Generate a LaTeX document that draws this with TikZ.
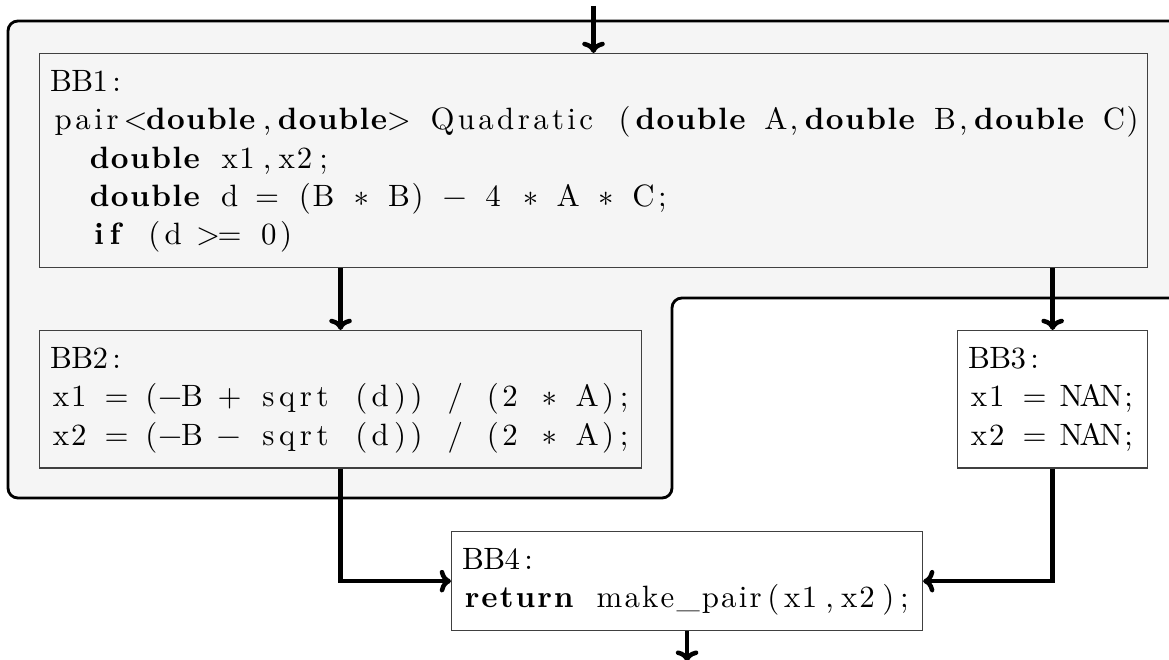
\documentclass[tikz,border=0pt]{standalone}
\usepackage{listings}
\usetikzlibrary{positioning, arrows.meta}
\definecolor{regiongray}{HTML}{F5F5F5}
\lstset{language=C++, basicstyle=\fontsize{10.95}{13.6}\selectfont, keywordstyle=\bfseries,
  columns=fixed, basewidth=0.61em, aboveskip=0pt, belowskip=0pt, showstringspaces=false}

\begin{document}
\begin{tikzpicture}[
        x=0.355pt, y=-0.355pt,
        node distance=0.8cm and 0.5cm,
        block/.style={rectangle, draw=black!75, fill=white, inner sep=4pt, anchor=north west, align=left},
        innerblock/.style={block, fill=regiongray},
        arrow/.style={-{Computer Modern Rightarrow[length=4pt, width=8pt]}, line width=1.6pt},
        region/.style={draw=black, line width=1pt, fill=regiongray, rounded corners=3.5pt}
    ]
        \useasboundingbox (0,0) rectangle (1169,660);
        \clip (0,0) rectangle (1169,660);

        % Region
        \draw[region] (8,21) -- (1220,21) -- (1220,298) -- (672,298) -- (672,498) -- (8,498) -- cycle;

        % Nodes
        \node[innerblock, text width=385.3pt] (bb1) at (39,53) {\par\prevdepth=-1000pt\relax
\begin{lstlisting}
BB1:
pair<double,double> Quadratic (double A,double B,double C)
  double x1,x2;
  double d = (B * B) - 4 * A * C;
  if (d >= 0)
\end{lstlisting}
};
        \node[innerblock, text width=205.7pt] (bb2) at (39,330) {\par\prevdepth=-1000pt\relax
\begin{lstlisting}
BB2:
x1 = (-B + sqrt (d)) / (2 * A);
x2 = (-B - sqrt (d)) / (2 * A);
\end{lstlisting}
};
        \node[block, text width=59.5pt] (bb3) at (957,330) {\par\prevdepth=-1000pt\relax
\begin{lstlisting}
BB3:
x1 = NAN;
x2 = NAN;
\end{lstlisting}
};
        \node[block, text width=159.2pt] (bb4) at (451,531) {\par\prevdepth=-1000pt\relax
\begin{lstlisting}
BB4:
return make_pair(x1,x2);
\end{lstlisting}
};

        \coordinate[above=16.7pt of bb1] (entry);
        \coordinate[below=10.8pt of bb4] (exit);

        % Paths
        \draw[arrow] (entry) -- (bb1);
        \draw[arrow] (bb1.south -| bb2.north) -- (bb2);
        \draw[arrow] (bb1.south -| bb3.north) -- (bb3);
        \draw[arrow] (bb2) |- (bb4);
        \draw[arrow] (bb3) |- (bb4);
        \draw[arrow] (bb4) -- (exit);
    \end{tikzpicture}
\end{document}
